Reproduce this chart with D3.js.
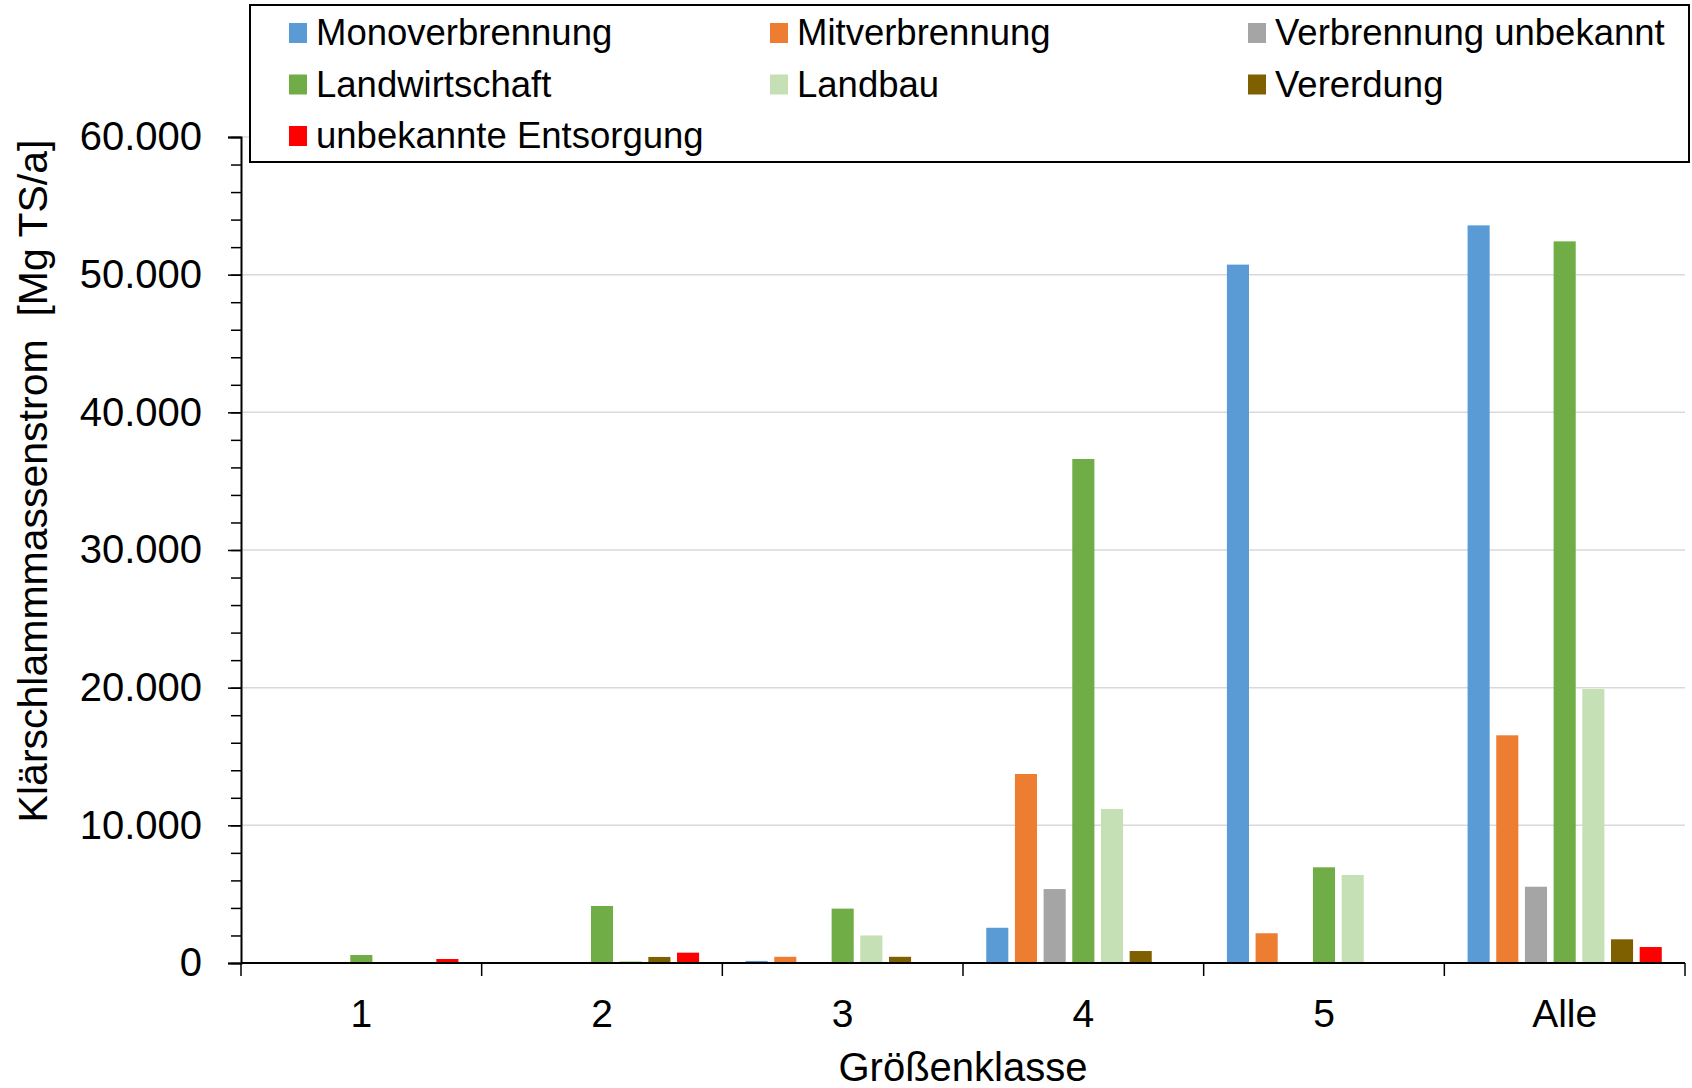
<!DOCTYPE html>
<html>
<head>
<meta charset="utf-8">
<script src="https://cdn.jsdelivr.net/npm/d3@7/dist/d3.min.js"></script>
<style>
  html, body { margin: 0; padding: 0; background: #fff; }
  svg { display: block; font-family: "Liberation Sans", Arial, sans-serif; }
</style>
</head>
<body>
<svg id="chart" width="1692" height="1088"></svg>
<script>
// Klärschlammmassenstrom je Größenklasse und Entsorgungsweg [Mg TS/a]
const categories = ["1", "2", "3", "4", "5", "Alle"];
const seriesNames = [
  "Monoverbrennung", "Mitverbrennung", "Verbrennung unbekannt",
  "Landwirtschaft", "Landbau", "Vererdung", "unbekannte Entsorgung"
];
const seriesColors = ["#5B9BD5", "#ED7D31", "#A5A5A5", "#70AD47", "#C5E0B4", "#7F6000", "#FF0000"];

const monoverbrennung      = [0,    0,    150,  2560,  50730, 53580];
const mitverbrennung       = [0,    0,    450,  13730, 2160,  16540];
const verbrennungUnbekannt = [0,    0,    0,    5370,  0,     5540];
const landwirtschaft       = [580,  4140, 3950, 36610, 6950,  52420];
const landbau              = [0,    150,  2000, 11190, 6390,  19900];
const vererdung            = [0,    440,  450,  870,   0,     1720];
const unbekannteEntsorgung = [290,  750,  0,    0,     0,     1160];

const seriesValues = [monoverbrennung, mitverbrennung, verbrennungUnbekannt,
  landwirtschaft, landbau, vererdung, unbekannteEntsorgung];

const yTicks = [0, 10000, 20000, 30000, 40000, 50000, 60000];

const svg = d3.select("#chart");
const margin = { left: 241, right: 7, top: 137, bottom: 125 };
const W = 1692, H = 1088;
const plotW = W - margin.left - margin.right;
const plotH = H - margin.top - margin.bottom;

const x0 = d3.scaleBand().domain(categories).range([margin.left, margin.left + plotW]).padding(0);
const x1 = d3.scaleBand().domain(d3.range(seriesNames.length)).range([0, x0.bandwidth()])
  .paddingInner(0.23).paddingOuter(0.81);
const y = d3.scaleLinear().domain([0, 60000]).range([margin.top + plotH, margin.top]);

const fmt = v => d3.format(",")(v).replace(/,/g, ".");

// horizontal gridlines
svg.append("g").selectAll("line").data(yTicks.filter(d => d > 0)).join("line")
  .attr("x1", margin.left).attr("x2", margin.left + plotW)
  .attr("y1", d => y(d)).attr("y2", d => y(d))
  .attr("stroke", "#d9d9d9").attr("stroke-width", 1.5);

// bars
const groups = svg.append("g").selectAll("g").data(categories).join("g")
  .attr("transform", d => `translate(${x0(d)},0)`);
groups.selectAll("rect")
  .data((c, ci) => seriesValues.map((vals, si) => ({ si, v: vals[ci] })))
  .join("rect")
  .attr("x", d => x1(d.si))
  .attr("width", x1.bandwidth())
  .attr("y", d => y(d.v))
  .attr("height", d => y(0) - y(d.v))
  .attr("fill", d => seriesColors[d.si]);

// y axis with minor ticks
const yAxis = svg.append("g").attr("transform", `translate(${margin.left},0)`);
yAxis.append("g").call(d3.axisLeft(y).tickValues(d3.range(0, 60001, 2000)).tickSize(10).tickFormat(""))
  .call(g => g.select(".domain").remove())
  .call(g => g.selectAll("line").attr("stroke", "#000").attr("stroke-width", 1.5));
yAxis.append("g").call(d3.axisLeft(y).tickValues(yTicks).tickSize(13).tickPadding(26).tickFormat(fmt))
  .call(g => g.select(".domain").attr("stroke", "#000").attr("stroke-width", 2))
  .call(g => g.selectAll("line").attr("stroke", "#000").attr("stroke-width", 1.5))
  .call(g => g.selectAll("text").attr("font-size", 40).attr("fill", "#000")
    .attr("font-family", "'Liberation Sans', Arial, sans-serif"));

// x axis: line, boundary ticks, category labels
const baseY = y(0);
svg.append("line").attr("x1", margin.left).attr("x2", margin.left + plotW)
  .attr("y1", baseY).attr("y2", baseY).attr("stroke", "#000").attr("stroke-width", 2);
const bounds = categories.map(c => x0(c)).concat([x0(categories[categories.length - 1]) + x0.bandwidth()]);
svg.append("g").selectAll("line").data(bounds).join("line")
  .attr("x1", d => d).attr("x2", d => d)
  .attr("y1", baseY).attr("y2", baseY + 13)
  .attr("stroke", "#000").attr("stroke-width", 1.5);
svg.append("g").selectAll("text").data(categories).join("text")
  .attr("x", d => x0(d) + x0.bandwidth() / 2)
  .attr("y", baseY + 64)
  .attr("text-anchor", "middle").attr("font-size", 39).attr("fill", "#000")
  .text(d => d);

// axis titles
svg.append("text")
  .attr("x", margin.left + plotW / 2).attr("y", 1081)
  .attr("text-anchor", "middle").attr("font-size", 40).attr("fill", "#000")
  .text("Größenklasse");
svg.append("text")
  .attr("transform", "translate(47,481) rotate(-90)")
  .attr("text-anchor", "middle").attr("font-size", 41).attr("fill", "#000")
  .style("white-space", "pre")
  .text("Klärschlammmassenstrom  [Mg TS/a]");

// legend
const legend = svg.append("g");
legend.append("rect").attr("x", 250).attr("y", 5).attr("width", 1439).attr("height", 157)
  .attr("fill", "#fff").attr("stroke", "#000").attr("stroke-width", 2);
const colX = [289, 770, 1248];
const rowY = [33, 84.5, 136];
const items = legend.selectAll("g").data(seriesNames).join("g")
  .attr("transform", (d, i) => `translate(${colX[i % 3]},${rowY[Math.floor(i / 3)]})`);
items.append("rect").attr("x", 0).attr("y", -10).attr("width", 18).attr("height", 20)
  .attr("fill", (d, i) => seriesColors[i]);
items.append("text").attr("x", 27).attr("y", 12).attr("font-size", 36.5).attr("fill", "#000")
  .text(d => d);
</script>
</body>
</html>
